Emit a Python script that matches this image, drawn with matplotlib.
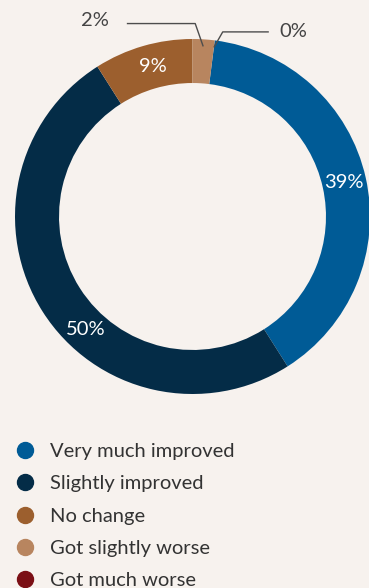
import matplotlib.pyplot as plt
import numpy as np
from matplotlib.lines import Line2D

# Survey answers and their shares (%)
categories = ['Very much improved', 'Slightly improved', 'No change',
              'Got slightly worse', 'Got much worse']
shares = [39, 50, 9, 2, 0]
colors = ['#005b96', '#042c47', '#9c5f2e', '#b8855f', '#7b0f15']

bg = '#f7f2ee'
plt.rcParams['font.family'] = ['Lato', 'DejaVu Sans']

fig = plt.figure(figsize=(3.69, 5.88), dpi=100, facecolor=bg)
ax = fig.add_axes([15 / 369, 194 / 588, 355 / 369, 355 / 588])
ax.axis('off')

# ring starts so that the last slices sit just right of the top
start = 90 - 360 * (shares[3] + shares[4]) / 100
ring = 0.248
wedges, _ = ax.pie(shares, colors=colors, startangle=start, counterclock=False,
                   radius=1, wedgeprops=dict(width=ring, linewidth=0))
ax.set_xlim(-1, 1)
ax.set_ylim(-1, 1)

# labels inside the ring for the big slices
label_pos = [0.5, 0.58, 0.45]
for w, v, f in zip(wedges[:3], shares[:3], label_pos):
    ang = np.deg2rad(w.theta1 + f * (w.theta2 - w.theta1))
    r = 1 - ring / 2
    ax.text(r * np.cos(ang), r * np.sin(ang), f'{v}%', ha='center', va='center',
            color='white', fontsize=14.5)

# small slices get leader lines to labels above the ring
callouts = [(3, -0.045, 1.087, -0.37, -0.55, 1.107),
            (4, 0.05, 1.04, 0.43, 0.566, 1.045)]
for i, dx, ly, lx_end, tx, ty in callouts:
    w = wedges[i]
    ang = np.deg2rad((w.theta1 + w.theta2) / 2)
    px, py = 0.96 * np.cos(ang), 0.96 * np.sin(ang)
    ax.plot([px, px + dx, lx_end], [py, ly, ly], color='#4d4d4d', lw=1,
            clip_on=False, solid_capstyle='butt')
    ax.text(tx, ty, f'{shares[i]}%', ha='center', va='center',
            color='#444444', fontsize=14.5)

handles = [Line2D([], [], marker='o', ls='', ms=11.5, color=c) for c in colors]
fig.legend(handles, categories, loc='upper left', bbox_to_anchor=(0.035, 0.247),
           frameon=False, fontsize=14.5, labelcolor='#333333',
           handletextpad=0.65, labelspacing=0.76, handlelength=1.2,
           borderpad=0, borderaxespad=0)

fig.savefig('out.png', dpi=100, facecolor=bg)
